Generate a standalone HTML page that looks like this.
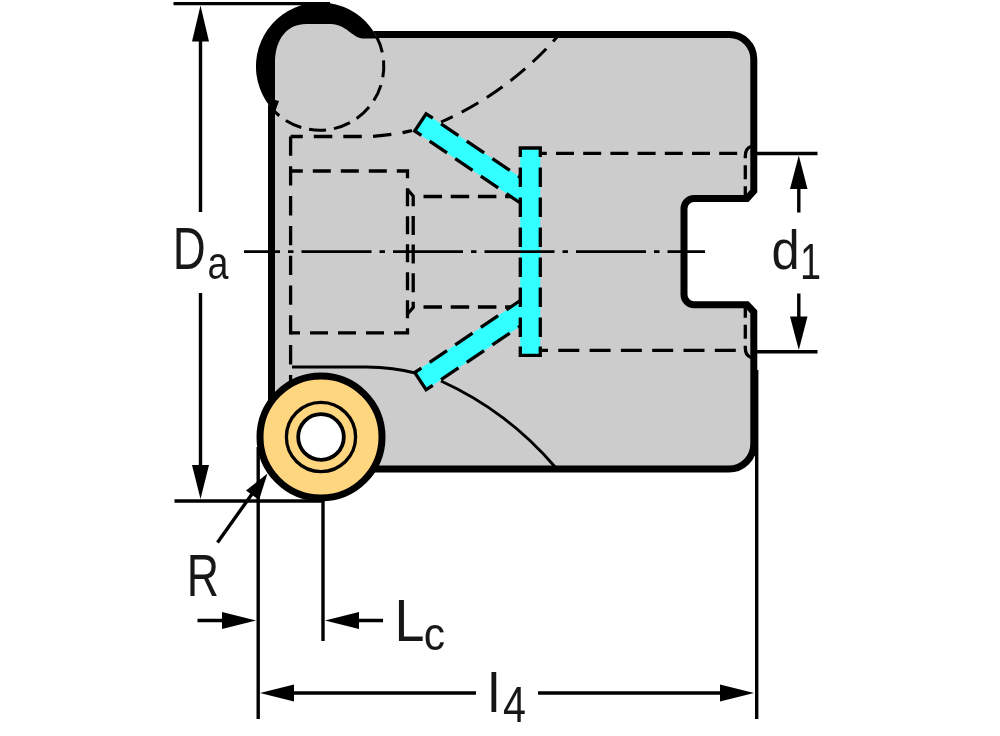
<!DOCTYPE html>
<html>
<head>
<meta charset="utf-8">
<title>Drawing</title>
<style>
html,body{margin:0;padding:0;background:#fff;}
body{width:1000px;height:736px;overflow:hidden;}
svg{display:block;}
text{font-family:"Liberation Sans",sans-serif;fill:#1a1a1a;}
</style>
</head>
<body>
<svg width="1000" height="736" viewBox="0 0 1000 736">
<rect width="1000" height="736" fill="#fff"/>
<defs><filter id="soft" filterUnits="userSpaceOnUse" x="0" y="0" width="1000" height="736"><feGaussianBlur stdDeviation="0.6"/></filter></defs>
<g filter="url(#soft)">

<!-- body -->
<path id="body" d="M271.5,34.5 L729.3,34.5 A24.5,24.5 0 0 1 753.8,59 L753.8,191 L747,198.5 L694,198.5 A10,10 0 0 0 684,208.5 L684,294.7 A10,10 0 0 0 694,304.7 L747,304.7 L753.8,312 L753.8,444 A25,25 0 0 1 728.8,469 L271.5,469 Z"
 fill="#cccccc" stroke="#000" stroke-width="7" stroke-linejoin="miter"/>

<!-- pocket disc top-left -->
<circle cx="320" cy="66.5" r="64" fill="#cccccc"/>
<path d="M275,112 A64,64 0 1 1 377.55,38.5 L362,38.5 C352,37 346,24.5 331,24 L306,24 C288,24 275,38 275,63 L275,100 L279,101 Z" fill="#000"/>
<path d="M376.5,36.5 A64,64 0 0 1 270.5,107" fill="none" stroke="#000" stroke-width="3" stroke-dasharray="17 8"/>

<!-- hidden lines -->
<g fill="none" stroke="#000" stroke-width="3.3">
  <path d="M290.6,136.5 L290.6,381" stroke-dasharray="19.3 10.5"/>
  <path d="M290.6,136.5 L370,136.5 Q395,135 412,130.5" stroke-dasharray="18.5 11" stroke-dashoffset="6.3"/>
  <path d="M290.6,171 L407.5,171 L407.5,332.8 L290.6,332.8" stroke-dasharray="18 10" stroke-dashoffset="5.8"/>
  <path d="M407.5,189.5 L413.2,196 L413.2,307.5 L407.5,314" stroke-dasharray="19 9.6"/>
  <path d="M423.5,196.5 L516,196.5" stroke-dasharray="18.5 8.7"/>
  <path d="M423.5,307 L516,307" stroke-dasharray="18.5 8.7"/>
  <path d="M542,153.3 L738,153.3" stroke-dasharray="18 9.2" stroke-dashoffset="13.2"/>
  <path d="M542,350.3 L738,350.3" stroke-dasharray="21 10.3" stroke-dashoffset="15"/>
  <path d="M751,146.5 Q745.3,148.5 745.3,156 L745.3,198" stroke-dasharray="14 7"/>
  <path d="M751,357.5 Q745.3,355.5 745.3,348 L745.3,305" stroke-dasharray="14 7"/>
</g>
<g fill="none" stroke="#000" stroke-width="3">
  <path d="M292,367 L366,367 Q395,367.5 414,372.8"/>
  <path d="M441,381 A330,330 0 0 1 556,468"/>
  <path d="M441,122 A330,330 0 0 0 557,37" stroke-dasharray="19 10" stroke-dashoffset="6"/>
</g>

<!-- coolant channels -->
<g fill="#33ffff" stroke="none">
  <path d="M522,178.6 L426.1,113.8 L414.7,131 L522,204.1 Z"/>
  <path d="M522,324.9 L426.1,389.7 L414.7,372.5 L522,299.4 Z"/>
  <rect x="520.3" y="148" width="20" height="207.4"/>
</g>
<g fill="none" stroke="#000" stroke-width="3.3">
  <path d="M432.8,118.2 L426.1,113.8 L414.7,131 L421.4,135.4"/>
  <path d="M432.8,385.3 L426.1,389.7 L414.7,372.5 L421.4,368.1"/>
  <path d="M520.3,157 L520.3,148 L540.3,148 L540.3,157"/>
  <path d="M520.3,346.4 L520.3,355.4 L540.3,355.4 L540.3,346.4"/>
  <g stroke-dasharray="21 10" stroke-dashoffset="21">
    <path d="M432.8,118.2 L520.3,177.5"/>
    <path d="M421.4,135.4 L520.3,203"/>
    <path d="M432.8,385.3 L520.3,326"/>
    <path d="M421.4,368.1 L520.3,300.5"/>
  </g>
  <g stroke-dasharray="19.5 10.5" stroke-dashoffset="19.5">
    <path d="M520.3,157 L520.3,346.4"/>
    <path d="M540.3,157 L540.3,346.4"/>
  </g>
</g>

<!-- centre line -->
<path d="M244,251.7 L705,251.7" fill="none" stroke="#000" stroke-width="2.8" stroke-dasharray="70 8 5.5 8" stroke-dashoffset="34"/>

<!-- insert -->
<circle cx="321" cy="437" r="61" fill="#ffd680" stroke="#000" stroke-width="7"/>
<circle cx="321" cy="437" r="34.6" fill="none" stroke="#000" stroke-width="3.3"/>
<circle cx="321" cy="437" r="22.8" fill="#fff" stroke="#000" stroke-width="3.8"/>

<!-- dimension lines -->
<g fill="none" stroke="#000" stroke-width="3.4">
  <path d="M173.5,3.6 L330,3.6"/>
  <path d="M174.5,501 L323,501"/>
  <path d="M200.5,30 L200.5,212"/>
  <path d="M200.5,293 L200.5,475"/>
  <path d="M258.2,447 L258.2,719"/>
  <path d="M323,501 L323,641"/>
  <path d="M197.5,620.5 L240,620.5"/>
  <path d="M340,620.5 L383,620.5"/>
  <path d="M290,693 L476,693"/>
  <path d="M538,693 L725,693"/>
  <path d="M756.7,370 L756.7,719"/>
  <path d="M755,153.5 L817.5,153.5"/>
  <path d="M755,351.8 L817.5,351.8"/>
  <path d="M798.8,180 L798.8,212.5"/>
  <path d="M798.8,293.5 L798.8,325"/>
  <path d="M217.5,542.5 L252,494"/>
</g>
<g fill="#000" stroke="none">
  <path d="M200.5,5.5 L209,41.5 L192,41.5 Z"/>
  <path d="M200.5,499 L209,465 L192,465 Z"/>
  <path d="M256,620.5 L222,612 L222,629 Z"/>
  <path d="M325,620.5 L359,612 L359,629 Z"/>
  <path d="M260,693 L294,684.5 L294,701.5 Z"/>
  <path d="M754,693 L720,684.5 L720,701.5 Z"/>
  <path d="M798.8,155.5 L807.5,189 L790,189 Z"/>
  <path d="M798.8,350 L807.5,316.5 L790,316.5 Z"/>
  <path d="M267.5,473.5 L259,500 L246,490.5 Z"/>
</g>

<!-- labels -->
<g style="opacity:0.999">
<text font-size="60" transform="translate(172.8,269.3) scale(0.76,1)">D</text>
<text font-size="46.5" transform="translate(207.5,278.8) scale(0.81,1)">a</text>
<text font-size="56.2" transform="translate(771.5,268.7) scale(0.902,1)">d</text>
<text font-size="50.6" transform="translate(800,278.5) scale(0.747,1)">1</text>
<text font-size="59.3" transform="translate(186.7,596) scale(0.753,1)">R</text>
<text font-size="59.3" transform="translate(394.6,640.5) scale(0.91,1)">L</text>
<text font-size="47.1" transform="translate(423.7,649.5) scale(0.906,1)">c</text>
<text font-size="55.6" transform="translate(487.8,712) scale(0.982,1)">l</text>
<text font-size="50" transform="translate(503.1,721.6) scale(0.826,1)">4</text>
</g>
</g>
</svg>
</body>
</html>
